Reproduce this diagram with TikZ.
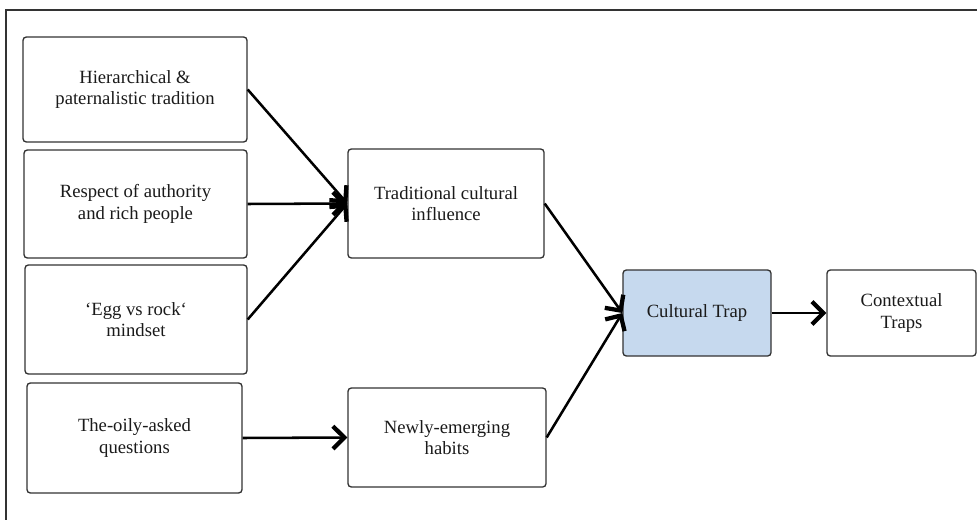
\documentclass[tikz,border=0pt]{standalone}
\usepackage{fontspec}
\setmainfont{Liberation Serif}
\usetikzlibrary{arrows.meta}
\definecolor{framegray}{HTML}{333333}
\definecolor{textgray}{HTML}{1A1A1A}
\definecolor{trapblue}{HTML}{C6D9EE}
\begin{document}
\begin{tikzpicture}[x=0.75pt,y=-0.75pt,
  box/.style={draw=framegray,line width=1pt,rounded corners=2.5pt,fill=white,
    align=center,text=textgray,inner sep=0pt,
    font=\fontsize{14}{16}\selectfont},
  bw/.style={minimum width=#1*0.75pt},
  bh/.style={minimum height=#1*0.75pt},
  arr/.style={line width=1.9pt,
    -{Straight Barb[length=8.5pt,width=17pt,line width=3.2pt]}}]
  \useasboundingbox (0,0) rectangle (977,520);
  % outer frame, running past the right and lower edges
  \begin{scope}
    \clip (0,0) rectangle (977,520);
    \draw[framegray,line width=1pt] (6,10) rectangle (990,540);
  \end{scope}

  % source factors
  \node[box,bw=224,bh=105] (hier) at (135,89.5) {Hierarchical \&\\paternalistic tradition};
  \node[box,bw=223,bh=108] (resp) at (135.5,204) {Respect of authority\\and rich people};
  \node[box,bw=222,bh=109] (egg)  at (136,319.5) {‘Egg vs rock‘\\mindset};
  \node[box,bw=215,bh=110] (oily) at (134.5,438) {The-oily-asked\\questions};

  % intermediate influences
  \node[box,bw=196,bh=109] (trad) at (446,203.5) {Traditional cultural\\influence};
  \node[box,bw=198,bh=99]  (newh) at (447,437.5) {Newly-emerging\\habits};

  % outcomes
  \node[box,bw=148,bh=86,fill=trapblue] (trap) at (697,313) {Cultural Trap};
  \node[box,bw=149,bh=86] (ctx) at (901.5,313) {Contextual\\Traps};

  % connectors
  \draw[arr] (hier.east) -- (trad.west);
  \draw[arr] (resp.east) -- (trad.west);
  \draw[arr] (egg.east)  -- (trad.west);
  \draw[arr] (oily.east) -- (newh.west);
  \draw[arr] (trad.east) -- (trap.west);
  \draw[arr] (newh.east) -- (trap.west);
  \draw[arr] (trap.east) -- (ctx.west);
\end{tikzpicture}
\end{document}
